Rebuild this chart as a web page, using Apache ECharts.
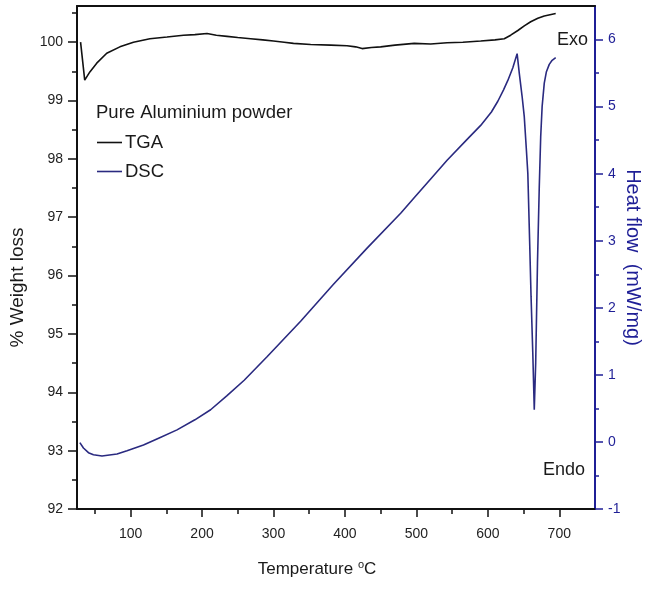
<!DOCTYPE html>
<html><head><meta charset="utf-8">
<script src="https://cdn.jsdelivr.net/npm/echarts@6/dist/echarts.min.js"></script>
<style>html,body{margin:0;padding:0;background:#fff}#c{width:647px;height:591px}</style>
</head><body><div id="c"></div>
<script>
const FONT = "'Liberation Sans',Arial,sans-serif";
const BLUE_AXIS = '#1f1f96';
const BLUE_LINE = '#2a2a80';

// Tick values
const tempTicks = [100, 200, 300, 400, 500, 600, 700];
const tempMinorTicks = [50, 150, 250, 350, 450, 550, 650];
const weightTicks = [92, 93, 94, 95, 96, 97, 98, 99, 100];
const weightMinorTicks = [92.5, 93.5, 94.5, 95.5, 96.5, 97.5, 98.5, 99.5, 100.5];
const heatTicks = [-1, 0, 1, 2, 3, 4, 5, 6];
const heatMinorTicks = [-0.5, 0.5, 1.5, 2.5, 3.5, 4.5, 5.5];

// TGA: temperature (°C) and % weight
const tgaTemp =   [30, 35.8, 43, 52.6, 66.6, 85, 104, 127, 151, 174, 190, 207, 220, 235, 250, 268, 285, 300, 315, 328, 352, 380, 403, 415, 424, 437, 450, 470, 497, 520, 543, 565, 590, 610, 623, 632, 642, 651, 660, 670, 679, 687, 695];
const tgaWeight = [100.0, 99.35, 99.49, 99.64, 99.81, 99.92, 100.0, 100.06, 100.09, 100.12, 100.13, 100.15, 100.12, 100.1, 100.08, 100.06, 100.04, 100.02, 100.0, 99.98, 99.96, 99.95, 99.94, 99.92, 99.89, 99.91, 99.92, 99.95, 99.98, 99.97, 99.99, 100.0, 100.02, 100.04, 100.06, 100.12, 100.2, 100.28, 100.35, 100.41, 100.45, 100.47, 100.49];

// DSC: temperature (°C) and heat flow (mW/mg)
const dscTemp = [29, 34, 41, 48, 60, 81, 95, 118, 140, 165, 190, 212, 235, 259, 291, 338, 384, 431, 478, 496, 520, 543, 570, 590, 605, 614, 622, 628, 635, 641, 644, 648, 651, 654, 656, 658.5, 660.5, 663, 665, 667, 669.5, 672, 674, 676, 679, 682, 686, 690, 695];
const dscHeat = [-0.01, -0.09, -0.16, -0.19, -0.21, -0.18, -0.13, -0.045, 0.06, 0.18, 0.33, 0.48, 0.69, 0.92, 1.27, 1.80, 2.35, 2.89, 3.41, 3.63, 3.92, 4.2, 4.5, 4.72, 4.92, 5.08, 5.25, 5.39, 5.58, 5.79, 5.5, 5.15, 4.85, 4.35, 4.0, 3.0, 2.17, 1.3, 0.48, 1.18, 2.67, 3.8, 4.55, 5.0, 5.35, 5.52, 5.63, 5.69, 5.73];

const zip = (a, b) => a.map((v, i) => [v, b[i]]);

const chart = echarts.init(document.getElementById('c'), null, {renderer: 'canvas'});

const noLine = {show: false};
chart.setOption({
  animation: false,
  backgroundColor: '#fff',
  textStyle: {fontFamily: FONT},
  grid: {left: 77, right: 52, top: 6, bottom: 82, containLabel: false, outerBoundsMode: 'none'},
  title: {
    text: 'Pure Aluminium powder', left: 96, top: 103, padding: 0,
    textStyle: {fontFamily: FONT, fontSize: 18.5, fontWeight: 'normal', color: '#1a1a1a'}
  },
  legend: {
    data: ['TGA', 'DSC'], orient: 'vertical', left: 97, top: 133, padding: 0,
    icon: 'rect', itemWidth: 25, itemHeight: 1.6, itemGap: 10,
    textStyle: {fontFamily: FONT, fontSize: 18.5, color: '#1a1a1a', padding: [0, 0, 0, -2]}
  },
  xAxis: [
    {
      type: 'value', min: 25, max: 750, position: 'bottom',
      name: '{a|Temperature }{s|o}{a|C}', nameLocation: 'middle', nameGap: 50, nameMoveOverlap: false,
      nameTextStyle: {padding: [0, 38, 0, 0], rich: {
        a: {fontFamily: FONT, fontSize: 17, color: '#1a1a1a'},
        s: {fontFamily: FONT, fontSize: 11, color: '#1a1a1a', padding: [0, 0, 9, 0]}
      }},
      axisLine: {onZero: false, lineStyle: {color: '#111', width: 2}},
      axisTick: {customValues: tempTicks, length: 8, lineStyle: {color: '#111', width: 1.5}},
      axisLabel: {customValues: tempTicks, margin: 18, fontFamily: FONT, fontSize: 14, color: '#222'},
      splitLine: noLine
    },
    {
      type: 'value', min: 25, max: 750, position: 'bottom',
      axisLine: {show: false, onZero: false},
      axisTick: {customValues: tempMinorTicks, length: 5, lineStyle: {color: '#111', width: 1.5}},
      axisLabel: {show: false},
      splitLine: noLine
    },
    {
      type: 'value', min: 25, max: 750, position: 'top',
      axisLine: {onZero: false, lineStyle: {color: '#111', width: 2}},
      axisTick: {show: false}, axisLabel: {show: false}, splitLine: noLine
    }
  ],
  yAxis: [
    {
      type: 'value', min: 92, max: 100.62, position: 'left',
      name: '% Weight loss', nameLocation: 'middle', nameRotate: 90, nameGap: 50, nameMoveOverlap: false,
      nameTextStyle: {fontFamily: FONT, fontSize: 19, color: '#1a1a1a', padding: [0, 60, 0, 0]},
      axisLine: {show: true, onZero: false, lineStyle: {color: '#111', width: 2}},
      axisTick: {customValues: weightTicks, length: 9, lineStyle: {color: '#111', width: 1.5}},
      axisLabel: {customValues: weightTicks, margin: 14, fontFamily: FONT, fontSize: 14, color: '#222'},
      splitLine: noLine
    },
    {
      type: 'value', min: 92, max: 100.62, position: 'left',
      axisLine: {show: false, onZero: false},
      axisTick: {customValues: weightMinorTicks, length: 5, lineStyle: {color: '#111', width: 1.5}},
      axisLabel: {show: false}, splitLine: noLine
    },
    {
      type: 'value', min: -1, max: 6.5, position: 'right',
      name: 'Heat flow  (mW/mg)', nameLocation: 'middle', nameRotate: -90, nameGap: 28, nameMoveOverlap: false,
      nameTextStyle: {fontFamily: FONT, fontSize: 20, color: BLUE_AXIS},
      axisLine: {show: true, onZero: false, lineStyle: {color: BLUE_AXIS, width: 2}},
      axisTick: {customValues: heatTicks, length: 8, lineStyle: {color: BLUE_AXIS, width: 1.5}},
      axisLabel: {customValues: heatTicks, margin: 13, fontFamily: FONT, fontSize: 14, color: BLUE_AXIS},
      splitLine: noLine
    },
    {
      type: 'value', min: -1, max: 6.5, position: 'right',
      axisLine: {show: false, onZero: false},
      axisTick: {customValues: heatMinorTicks, length: 4, lineStyle: {color: BLUE_AXIS, width: 1.5}},
      axisLabel: {show: false}, splitLine: noLine
    }
  ],
  graphic: [
    {type: 'text', left: 557, top: 31, style: {text: 'Exo', fontFamily: FONT, fontSize: 18, fill: '#1a1a1a'}},
    {type: 'text', left: 543, top: 461, style: {text: 'Endo', fontFamily: FONT, fontSize: 18, fill: '#1a1a1a'}}
  ],
  series: [
    {
      name: 'TGA', type: 'line', xAxisIndex: 0, yAxisIndex: 0,
      data: zip(tgaTemp, tgaWeight), showSymbol: false, symbol: 'none',
      lineStyle: {color: '#111', width: 1.6}, itemStyle: {color: '#111'}
    },
    {
      name: 'DSC', type: 'line', xAxisIndex: 0, yAxisIndex: 2,
      data: zip(dscTemp, dscHeat), showSymbol: false, symbol: 'none',
      lineStyle: {color: BLUE_LINE, width: 1.6}, itemStyle: {color: BLUE_LINE}
    }
  ]
});
</script></body></html>
